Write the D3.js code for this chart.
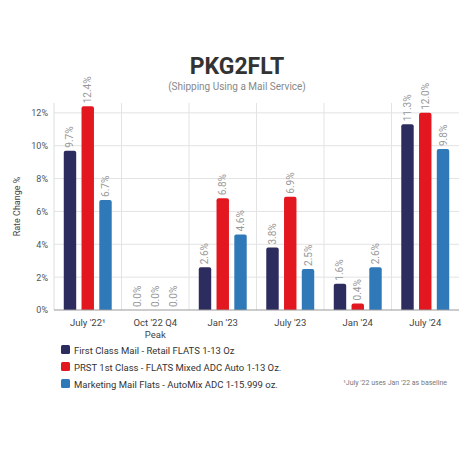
<!DOCTYPE html>
<html><head><meta charset="utf-8">
<script src="https://cdn.jsdelivr.net/npm/d3@7"></script>
<style>body{margin:0;background:#fff;font-family:Roboto,sans-serif}</style>
</head><body><svg id="chart" width="474" height="474"></svg>
<script>
const categories = ["July '22¹", "Oct '22 Q4|Peak", "Jan '23", "July '23", "Jan '24", "July '24"];
const seriesNames = ["First Class Mail - Retail FLATS 1-13 Oz", "PRST 1st Class - FLATS Mixed ADC Auto 1-13 Oz.", "Marketing Mail Flats - AutoMix ADC 1-15.999 oz."];
const firstClass = [9.7, 0, 2.6, 3.8, 1.6, 11.3];
const prst = [12.4, 0, 6.8, 6.9, 0.4, 12.0];
const marketing = [6.7, 0, 4.6, 2.5, 2.6, 9.8];
const colors = ["#2d2c5e", "#e3171f", "#2f79b9"];
const yTicks = [0, 2, 4, 6, 8, 10, 12];

const series = [firstClass, prst, marketing];
const svg = d3.select("#chart");
const plotLeft = 54, plotRight = 459, plotTop = 103, plotBottom = 310;

const x = d3.scaleBand().domain(categories).range([plotLeft, plotRight]);
const xs = d3.scaleBand().domain([0, 1, 2]).range([0, x.bandwidth()]).paddingInner(0.3).paddingOuter(0.55);
const y = d3.scaleLinear().domain([0, 12.6]).range([plotBottom, plotTop]);

svg.append("text").attr("x", 237).attr("y", 74).attr("text-anchor", "middle")
  .attr("font-size", 23).attr("font-weight", "bold").attr("fill", "#333").text("PKG2FLT");
svg.append("text").attr("x", 237).attr("y", 90).attr("text-anchor", "middle")
  .attr("font-size", 10).attr("fill", "#888").text("(Shipping Using a Mail Service)");

// grid
svg.append("g").selectAll("line").data(yTicks.slice(1)).join("line")
  .attr("x1", plotLeft).attr("x2", plotRight).attr("y1", d => y(d)).attr("y2", d => y(d))
  .attr("stroke", "#e3e3e3");
svg.append("g").selectAll("line").data(categories.slice(1)).join("line")
  .attr("x1", d => x(d)).attr("x2", d => x(d)).attr("y1", plotTop).attr("y2", plotBottom)
  .attr("stroke", "#e3e3e3");
svg.append("line").attr("x1", plotLeft).attr("x2", plotLeft).attr("y1", plotTop).attr("y2", plotBottom).attr("stroke", "#ddd");

const yAxis = svg.append("g").attr("transform", `translate(${plotLeft},0)`)
  .call(d3.axisLeft(y).tickValues(yTicks).tickFormat(d => d + "%").tickSize(0).tickPadding(6));
yAxis.select(".domain").remove();
yAxis.selectAll("text").attr("font-size", 9).attr("fill", "#555").attr("font-family", "Roboto");

svg.append("text").attr("transform", `translate(20,${(plotTop + plotBottom) / 2}) rotate(-90)`)
  .attr("text-anchor", "middle").attr("font-size", 9).attr("fill", "#444").text("Rate Change %");

const groups = svg.append("g").selectAll("g").data(categories).join("g")
  .attr("transform", d => `translate(${x(d)},0)`);
groups.each(function (cat, ci) {
  const g = d3.select(this);
  series.forEach((s, si) => {
    const v = s[ci];
    const bx = xs(si), bw = xs.bandwidth();
    if (v > 0) {
      const h = plotBottom - y(v), r = Math.min(2, h / 2);
      g.append("path").attr("fill", colors[si])
        .attr("d", `M${bx},${plotBottom}V${y(v) + r}Q${bx},${y(v)} ${bx + r},${y(v)}H${bx + bw - r}Q${bx + bw},${y(v)} ${bx + bw},${y(v) + r}V${plotBottom}Z`);
    }
    g.append("text").attr("transform", `translate(${bx + bw / 2 + 3.5},${y(v) - 3}) rotate(-90)`)
      .attr("font-size", 10).attr("fill", "#999").text(v.toFixed(1) + "%");
  });
  cat.split("|").forEach((line, li) => {
    g.append("text").attr("x", x.bandwidth() / 2).attr("y", plotBottom + 16 + li * 12)
      .attr("text-anchor", "middle").attr("font-size", 9.5).attr("fill", "#444").text(line);
  });
});
svg.append("line").attr("x1", plotLeft).attr("x2", plotRight).attr("y1", plotBottom).attr("y2", plotBottom).attr("stroke", "#999");

const legend = svg.append("g").selectAll("g").data(seriesNames).join("g")
  .attr("transform", (d, i) => `translate(61,${345 + i * 17})`);
legend.append("rect").attr("width", 9).attr("height", 9).attr("rx", 1.5).attr("fill", (d, i) => colors[i]);
legend.append("text").attr("x", 13).attr("y", 8.5).attr("font-size", 9.5).attr("fill", "#333").text(d => d);

svg.append("text").attr("x", 447).attr("y", 385).attr("text-anchor", "end")
  .attr("font-size", 7).attr("fill", "#777").text("¹July '22 uses Jan '22 as baseline");
</script></body></html>
